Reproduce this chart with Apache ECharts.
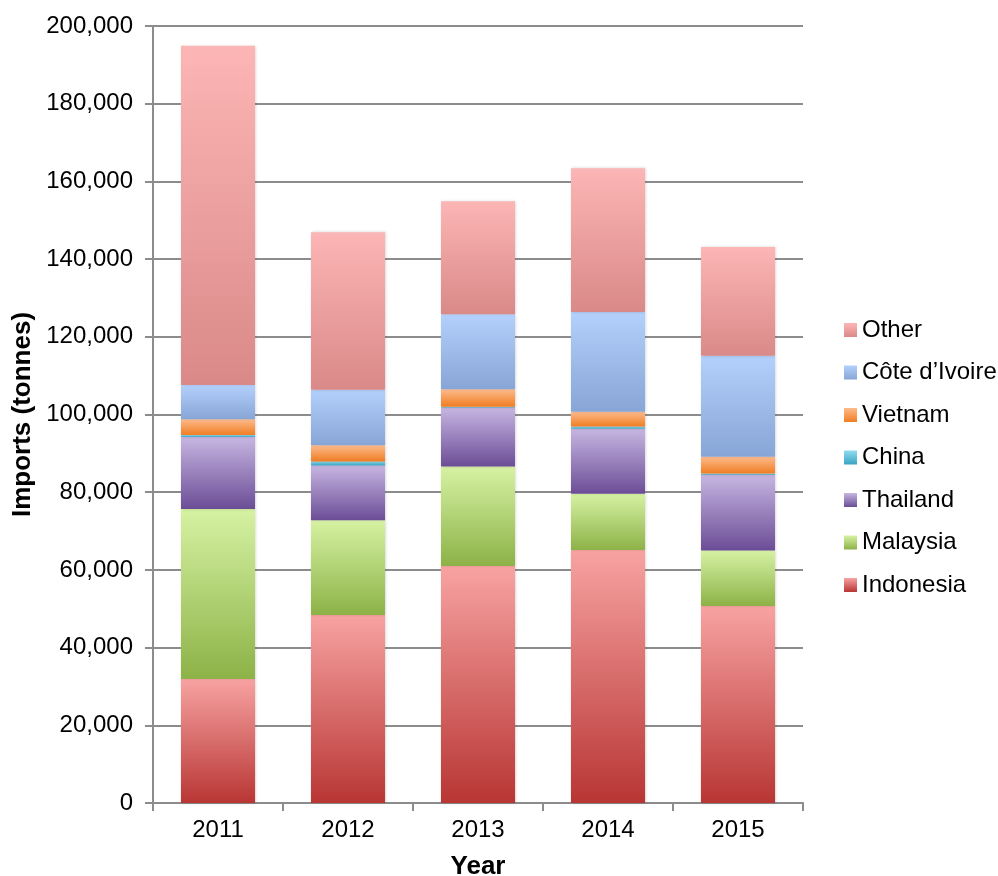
<!DOCTYPE html>
<html>
<head>
<meta charset="utf-8">
<script src="https://cdn.jsdelivr.net/npm/echarts@6/dist/echarts.min.js"></script>
<style>
  html, body { margin: 0; padding: 0; background: #fff; }
  #chart { width: 998px; height: 876px; }
</style>
</head>
<body>
<div id="chart"></div>
<script>
const years = ['2011', '2012', '2013', '2014', '2015'];

// tonnes
const indonesia = [31900, 48400, 61000, 65100, 50700];
const malaysia = [43800, 24400, 25600, 14500, 14300];
const thailand = [18500, 14100, 15200, 16700, 19500];
const china = [500, 1000, 200, 600, 300];
const vietnam = [4100, 4200, 4500, 3800, 4300];
const coteIvoire = [8800, 14300, 19300, 25700, 26000];
const other = [87300, 40500, 29100, 37000, 28000];

const yTicks = [0, 20000, 40000, 60000, 80000, 100000, 120000, 140000, 160000, 180000, 200000];

function grad(top, bottom) {
  return {
    type: 'linear', x: 0, y: 0, x2: 0, y2: 1,
    colorStops: [{ offset: 0, color: top }, { offset: 1, color: bottom }]
  };
}

const seriesDefs = [
  { name: 'Indonesia', data: indonesia, top: '#f7a3a2', bottom: '#b83634' },
  { name: 'Malaysia', data: malaysia, top: '#d6f2a3', bottom: '#8db247' },
  { name: 'Thailand', data: thailand, top: '#c7b6e2', bottom: '#6b4d96' },
  { name: 'China', data: china, top: '#8fdcf0', bottom: '#3aa4c2' },
  { name: 'Vietnam', data: vietnam, top: '#fdbb8d', bottom: '#f07d22' },
  { name: "Côte d’Ivoire", data: coteIvoire, top: '#b4d0fc', bottom: '#87a5d6' },
  { name: 'Other', data: other, top: '#fcb6b5', bottom: '#d98988' }
];

const chart = echarts.init(document.getElementById('chart'));

const option = {
  animation: false,
  textStyle: { fontFamily: 'Liberation Sans, Arial, sans-serif' },
  grid: { left: 153, right: 195, top: 26, bottom: 73, outerBoundsMode: 'none' },
  legend: {
    orient: 'vertical',
    left: 839,
    top: 313,
    itemWidth: 13,
    itemHeight: 14,
    itemGap: 18.5,
    icon: 'rect',
    textStyle: { fontSize: 24, lineHeight: 24, color: '#000' },
    data: seriesDefs.map(s => s.name).reverse()
  },
  xAxis: {
    type: 'category',
    data: years,
    name: 'Year',
    nameLocation: 'middle',
    nameGap: 51,
    nameTextStyle: { fontSize: 26, fontWeight: 'bold', color: '#000' },
    axisLine: { lineStyle: { color: '#8c8c8c', width: 2 } },
    axisTick: { show: true, length: 8, lineStyle: { color: '#8c8c8c', width: 2 } },
    axisLabel: { fontSize: 24, color: '#000', margin: 15 }
  },
  yAxis: {
    type: 'value',
    min: 0,
    max: 200000,
    interval: 20000,
    name: 'Imports (tonnes)',
    nameLocation: 'middle',
    nameGap: 115,
    nameTextStyle: { fontSize: 26, fontWeight: 'bold', color: '#000' },
    axisLine: { show: true, lineStyle: { color: '#8c8c8c', width: 2 } },
    axisTick: { show: true, length: 8, lineStyle: { color: '#8c8c8c', width: 2 } },
    splitLine: { lineStyle: { color: '#8c8c8c', width: 2 } },
    axisLabel: {
      fontSize: 24, color: '#000', margin: 20,
      formatter: v => yTicks.indexOf(v) >= 0 ? v.toLocaleString('en-US') : ''
    }
  },
  series: seriesDefs.map(s => ({
    name: s.name,
    type: 'bar',
    stack: 'total',
    barWidth: '57%',
    data: s.data,
    itemStyle: {
      color: grad(s.top, s.bottom),
      shadowBlur: 3,
      shadowColor: 'rgba(0,0,0,0.18)',
      shadowOffsetX: 1
    }
  }))
};

chart.setOption(option);
</script>
</body>
</html>
